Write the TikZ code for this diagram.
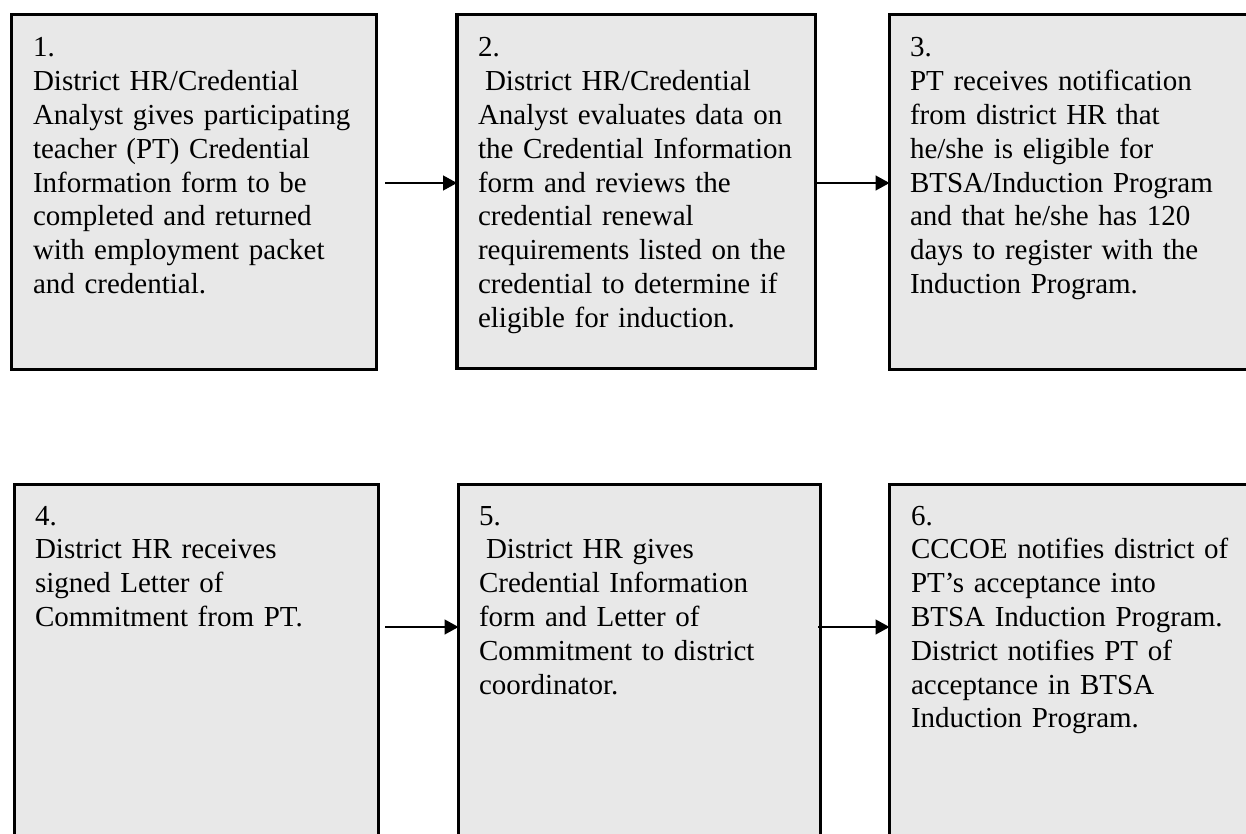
\documentclass[tikz,border=0pt]{standalone}
\usepackage{fontspec}
\setmainfont{Liberation Serif}
\usetikzlibrary{arrows.meta}
\definecolor{boxfill}{RGB}{232,232,232}
\tikzset{
  stepbox/.style={draw=black, line width=3.3pt, fill=boxfill},
  steptext/.style={anchor=base west, inner sep=0pt, outer sep=0pt, text width=420pt, align=left,
    font=\fontsize{29}{33.8}\selectfont},
  flow/.style={line width=1.4pt, -{Triangle[length=14pt,width=15pt]}}
}
\begin{document}
\begin{tikzpicture}[x=1pt,y=-1pt]
\useasboundingbox (0,0) rectangle (1246,834);
% boxes
\path[stepbox] (11.5,14.5) rectangle (376.5,369.5);
\node[inner sep=0, outer sep=0, minimum width=365pt, minimum height=355pt] (b1) at (194,192) {};
\path[stepbox] (457,14.5) rectangle (815.5,368.5);
\node[inner sep=0, outer sep=0, minimum width=358.5pt, minimum height=354pt] (b2) at (636.25,191.5) {};
\path[stepbox] (889.5,14.5) rectangle (1265,369.5);
\node[inner sep=0, outer sep=0, minimum width=375.5pt, minimum height=355pt] (b3) at (1077.25,192) {};
\path[stepbox] (14.5,484.5) rectangle (378.5,860);
\node[inner sep=0, outer sep=0, minimum width=364pt, minimum height=375.5pt] (b4) at (196.5,672.25) {};
\path[stepbox] (458.5,484.5) rectangle (820.5,860);
\node[inner sep=0, outer sep=0, minimum width=362pt, minimum height=375.5pt] (b5) at (639.5,672.25) {};
\path[stepbox] (889.5,484.5) rectangle (1265,860);
\node[inner sep=0, outer sep=0, minimum width=375.5pt, minimum height=375.5pt] (b6) at (1077.25,672.25) {};
% texts
\node[steptext] (t1) at (33,57) {1.\\District HR/Credential\\Analyst gives participating\\teacher (PT) Credential\\Information form to be\\completed and returned\\with employment packet\\and credential.};
\node[steptext] (t2) at (478,57) {2.\\\hspace*{7pt}District HR/Credential\\Analyst evaluates data on\\the Credential Information\\form and reviews the\\credential renewal\\requirements listed on the\\credential to determine if\\eligible for induction.};
\node[steptext] (t3) at (910,57) {3.\\PT receives notification\\from district HR that\\he/she is eligible for\\BTSA/Induction Program\\and that he/she has 120\\days to register with the\\Induction Program.};
\node[steptext] (t4) at (35,525) {4.\\District HR receives\\signed Letter of\\Commitment from PT.};
\node[steptext] (t5) at (479,525) {5.\\\hspace*{7pt}District HR gives\\Credential Information\\form and Letter of\\Commitment to district\\coordinator.};
\node[steptext] (t6) at (911,525) {6.\\CCCOE notifies district of\\PT’s acceptance into\\BTSA Induction Program.\\District notifies PT of\\acceptance in BTSA\\Induction Program.};
% connectors
\coordinate (a1) at (385,183);
\coordinate (a4) at (385,627);
\coordinate (a5) at (818,627);
\draw[flow] (a1) -- (b2.west |- a1);
\draw[flow] (b2.east |- 0,183) -- (b3.west |- 0,183);
\draw[flow] (a4) -- (b5.west |- a4);
\draw[flow] (a5) -- (b6.west |- a5);
\end{tikzpicture}
\end{document}
